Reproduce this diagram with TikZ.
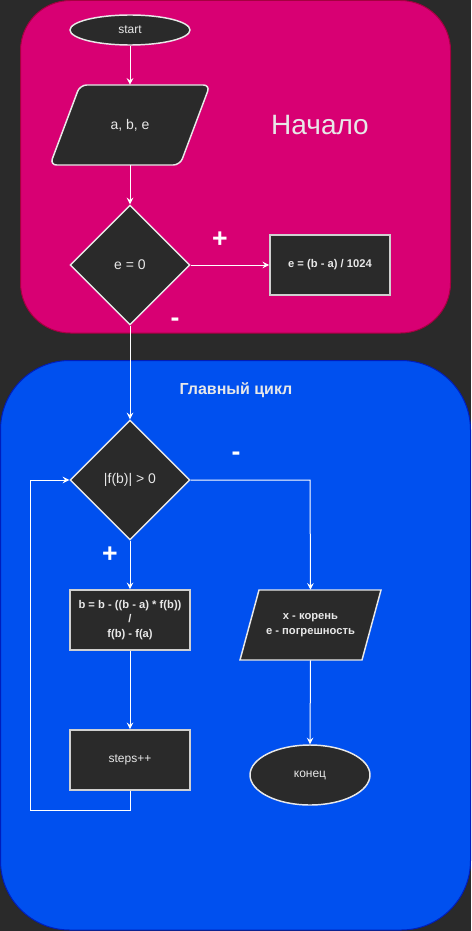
\documentclass[tikz,border=0pt]{standalone}
\usepackage{fontspec}
\setmainfont{Liberation Sans}
\usetikzlibrary{shapes.geometric,arrows.meta,calc}

\definecolor{bgdark}{HTML}{2A2A2A}
\definecolor{pinkfill}{HTML}{D80073}
\definecolor{pinkline}{HTML}{A50040}
\definecolor{bluefill}{HTML}{0050EF}
\definecolor{blueline}{HTML}{001DBC}
\definecolor{txt}{HTML}{E8E8E8}
\definecolor{boxline}{HTML}{D0D0D0}

\tikzset{
  base/.style={fill=bgdark, text=txt, inner sep=0pt, align=center},
  proc/.style={base, draw=boxline, line width=1.3pt, rectangle,
    minimum width=90pt, minimum height=45pt},
  term/.style={base, draw=txt, line width=1.1pt, ellipse},
  decision/.style={base, draw=txt, line width=1.1pt, diamond, aspect=1,
    minimum width=90pt, minimum height=90pt, font=\fontsize{10.5}{12}\selectfont},
  iobox/.style={text=txt, inner sep=0pt, align=center},
  ioshape/.style={fill=bgdark, draw=txt, line width=1.1pt},
  flow/.style={draw=white, line width=0.75pt,
    -{Stealth[length=5pt, width=5pt, inset=1.8pt]}},
  flowplain/.style={draw=white, line width=0.75pt},
  sign/.style={text=white, font=\fontsize{20}{22}\selectfont\bfseries},
  small/.style={font=\fontsize{8.4}{10.9}\selectfont\bfseries},
  regular/.style={font=\fontsize{9}{11}\selectfont},
}

\begin{document}
\begin{tikzpicture}[x=0.75pt, y=-0.75pt]
  % canvas
  \fill[bgdark] (0,0) rectangle (471,931);
  \useasboundingbox (0,0) rectangle (471,931);

  % containers
  \draw[fill=pinkfill, draw=pinkline, line width=0.75pt, rounded corners=37.5pt]
    (20.5,0.5) rectangle (450.5,333);
  \draw[fill=bluefill, draw=blueline, line width=0.75pt, rounded corners=52pt]
    (0.5,360.5) rectangle (470.5,930);

  % container titles
  \node[text=txt, font=\fontsize{21}{24}\selectfont] (titleA) at (320,125) {Начало};
  \node[text=txt, font=\fontsize{12}{14}\selectfont\bfseries] (titleB) at (236,390) {Главный цикл};

  % --- initialisation block ---
  \node[term, regular, minimum width=90pt, minimum height=22.5pt] (start) at (130,30) {start};

  \draw[ioshape, rounded corners=5pt] (80,85) -- (210,85) -- (180,165) -- (50,165) -- cycle;
  \node[iobox, font=\fontsize{10.5}{12}\selectfont, minimum width=90pt, minimum height=60pt]
    (inp) at (130,125) {a, b, e};

  \node[decision] (chkE) at (130,265) {e = 0};
  \node[proc, small] (setE) at (330,265) {e = (b - a) / 1024};

  \node[sign] (plusA) at (220,240) {+};
  \node[sign] (minusA) at (175,322) {-};

  % --- main loop ---
  \node[decision] (chkF) at (130,480) {|f(b)| > 0};
  \node[sign] (minusB) at (236,456) {-};
  \node[sign] (plusB) at (110,555) {+};

  \node[proc, small] (step) at (130,620) {b = b - ((b - a) * f(b))\\/\\f(b) - f(a)};
  \node[proc, regular] (cnt) at (130,760) {steps++};

  \draw[ioshape] (259,590) -- (381,590) -- (362,660) -- (240,660) -- cycle;
  \node[iobox, small, minimum width=90pt, minimum height=52.5pt]
    (res) at (310.5,625) {x - корень\\e - погрешность};

  \node[term, regular, minimum width=90pt, minimum height=45pt] (fin) at (310,775) {конец};

  % loop-back corner points
  \coordinate (lpA) at (130,810);
  \coordinate (lpB) at (30,810);
  \coordinate (lpC) at (30,480);
  \coordinate (brR) at (310,480);

  % connectors
  \draw[flow] (start.south) -- (inp.north);
  \draw[flow] (inp.south) -- (chkE.north);
  \draw[flow] (chkE.east) -- (setE.west);
  \draw[flow] (chkE.south) -- (chkF.north);
  \draw[flow] (chkF.south) -- (step.north);
  \draw[flow] (step.south) -- (cnt.north);
  \draw[flow] (cnt.south) -- (lpA) -- (lpB) -- (lpC) -- (chkF.west);
  \draw[flow] (chkF.east) -- (brR) -- (res.north);
  \draw[flow] (res.south) -- (fin.north);
\end{tikzpicture}
\end{document}
